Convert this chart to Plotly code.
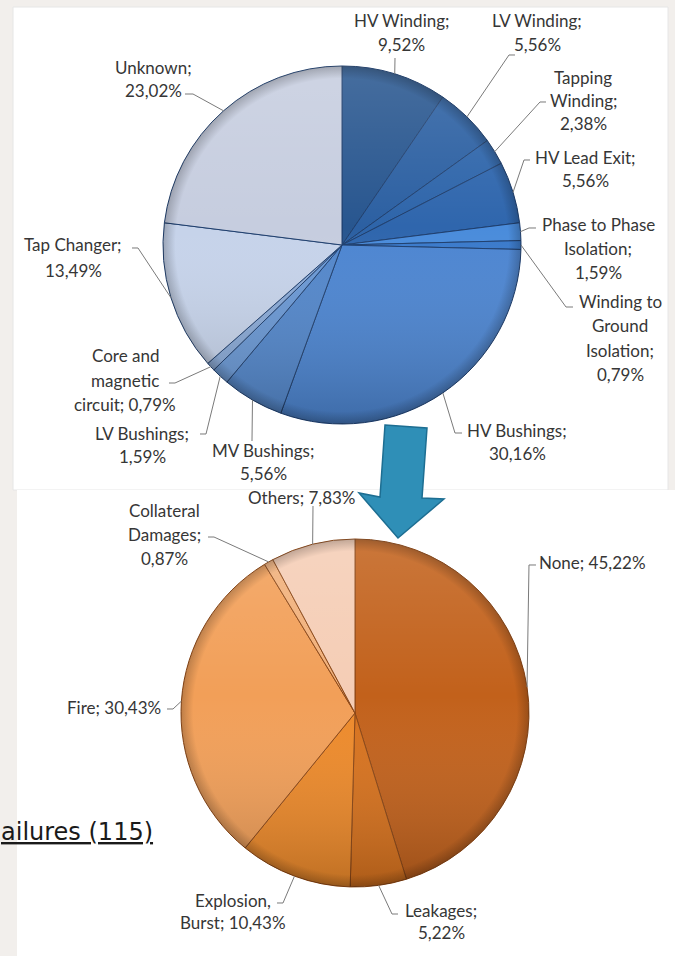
import math
import base64
import plotly.graph_objects as go

W, H = 675, 956

# ---- data: failure locations (top pie) ----
loc_labels = ["HV Winding", "LV Winding", "Tapping Winding", "HV Lead Exit",
              "Phase to Phase Isolation", "Winding to Ground Isolation",
              "HV Bushings", "MV Bushings", "LV Bushings",
              "Core and magnetic circuit", "Tap Changer", "Unknown"]
loc_values = [9.52, 5.56, 2.38, 5.56, 1.59, 0.79, 30.16, 5.56, 1.59, 0.79, 13.49, 23.02]
loc_text = [["HV Winding;", "9,52%"], ["LV Winding;", "5,56%"],
            ["Tapping", "Winding;", "2,38%"], ["HV Lead Exit;", "5,56%"],
            ["Phase to Phase", "Isolation;", "1,59%"],
            ["Winding to", "Ground", "Isolation;", "0,79%"],
            ["HV Bushings;", "30,16%"], ["MV Bushings;", "5,56%"],
            ["LV Bushings;", "1,59%"], ["Core and", "magnetic", "circuit; 0,79%"],
            ["Tap Changer;", "13,49%"], ["Unknown;", "23,02%"]]
loc_colors = ["#28568f", "#2c60a2", "#2e65aa", "#2f66ad", "#4a8cdb", "#3a7acb",
              "#4c85d1", "#5387cb", "#6a98d4", "#89a9d6", "#c6d3ea", "#c6cddf"]

# ---- data: consequences (bottom pie) ----
con_labels = ["None", "Leakages", "Explosion, Burst", "Fire", "Collateral Damages", "Others"]
con_values = [45.22, 5.22, 10.43, 30.43, 0.87, 7.83]
con_text = [["None; 45,22%"], ["Leakages;", "5,22%"], ["Explosion,", "Burst; 10,43%"],
            ["Fire; 30,43%"], ["Collateral", "Damages;", "0,87%"], ["Others; 7,83%"]]
con_colors = ["#c2611b", "#d8721d", "#ee8a2a", "#f29f58", "#f1b07a", "#f5cdb5"]

# ---- layout geometry (pixels) ----
PIE1 = dict(cx=342, cy=245, r=179)
PIE2 = dict(cx=355, cy=713, r=174)

# label placement: (centre x, first line y, line spacing, leader points near the text)
loc_place = [
    (402, 20, 25, [(395, 58)]),
    (537, 20, 25, [(515, 55), (509, 55)]),
    (583, 77, 23.5, [(546, 102), (540, 102)]),
    (585, 157, 23.5, [(530, 160), (524, 160)]),
    (598, 225, 23.5, [(536, 228), (529, 228)]),
    (620, 302, 24, [(573, 307), (566, 307)]),
    (517, 430, 23, [(462, 433), (455, 433)]),
    (263, 450, 23, [(252, 441)]),
    (142, 433, 23, [(200, 434), (206, 434)]),
    (125, 355, 25, [(169, 383), (175, 383)]),
    (73, 245, 25, [(132, 248), (138, 248)]),
    (153, 67, 23, [(185, 94), (193, 94)]),
]
con_place = [
    (592, 562, 23, [(536, 565), (529, 565)]),
    (441, 910, 22, [(398, 914), (392, 914)]),
    (233, 900, 22, [(277, 903), (283, 903)]),
    (114, 707, 23, [(167, 709), (173, 709)]),
    (164, 510, 24, [(208, 537), (214, 537)]),
    (302, 497, 23, [(313, 506)]),
]


def px(x):
    return x / W


def py(y):
    return 1 - y / H


def pie_domain(p):
    return dict(x=[px(p["cx"] - p["r"]), px(p["cx"] + p["r"])],
                y=[py(p["cy"] + p["r"]), py(p["cy"] - p["r"])])


def edge_points(values, p):
    """Point on the rim at the middle angle of each slice (clockwise from 12 o'clock)."""
    total = sum(values)
    pts, acc = [], 0.0
    for v in values:
        mid = (acc + v / 2) / total * 2 * math.pi
        pts.append((p["cx"] + p["r"] * math.sin(mid), p["cy"] - p["r"] * math.cos(mid)))
        acc += v
    return pts


fig = go.Figure()

fig.add_trace(go.Pie(
    labels=loc_labels, values=loc_values, sort=False, direction="clockwise",
    rotation=0, textinfo="none", hoverinfo="label+percent",
    marker=dict(colors=loc_colors, line=dict(color="#1f3f6e", width=1)),
    domain=pie_domain(PIE1), showlegend=False))

fig.add_trace(go.Pie(
    labels=con_labels, values=con_values, sort=False, direction="clockwise",
    rotation=0, textinfo="none", hoverinfo="label+percent",
    marker=dict(colors=con_colors, line=dict(color="#8a4514", width=1)),
    domain=pie_domain(PIE2), showlegend=False))

shapes = []
annotations = []

# background panels
shapes.append(dict(type="rect", xref="paper", yref="paper", layer="below",
                   x0=px(13), x1=px(668), y0=py(490), y1=py(7),
                   fillcolor="white", line=dict(color="#e6e6e6", width=1)))
shapes.append(dict(type="rect", xref="paper", yref="paper", layer="below",
                   x0=px(17), x1=px(676), y0=py(957), y1=py(490),
                   fillcolor="white", line=dict(width=0)))


def add_labels(texts, place, values, p):
    edges = edge_points(values, p)
    for lines, (cx, y0, dy, lead), e in zip(texts, place, edges):
        for i, t in enumerate(lines):
            annotations.append(dict(
                x=px(cx), y=py(y0 + i * dy), xref="paper", yref="paper",
                text=t, showarrow=False, xanchor="center", yanchor="middle",
                font=dict(family="Lato", size=17, color="#363636")))
        pts = lead + [e]
        path = "M " + " L ".join(f"{px(x):.5f},{py(y):.5f}" for x, y in pts)
        shapes.append(dict(type="path", xref="paper", yref="paper", path=path,
                           line=dict(color="#7a7a7a", width=1), layer="above"))


add_labels(loc_text, loc_place, loc_values, PIE1)
add_labels(con_text, con_place, con_values, PIE2)

# arrow linking the two charts
arrow = [(385, 425), (427, 428), (422, 498), (444, 499), (398, 538),
         (359, 493), (380, 497)]
shapes.append(dict(type="path", xref="paper", yref="paper", layer="above",
                   path="M " + " L ".join(f"{px(x):.5f},{py(y):.5f}" for x, y in arrow) + " Z",
                   fillcolor="#2f8fb7", line=dict(color="#1d6e92", width=1.5)))

# partially visible slide caption
annotations.append(dict(x=px(-1), y=py(832), xref="paper", yref="paper",
                        text="<u>ailures (115)</u>", showarrow=False,
                        xanchor="left", yanchor="middle",
                        font=dict(family="DejaVu Sans", size=24, color="#1a1a1a")))

# soft top-light / bottom-shade over each pie
svg = ('<svg xmlns="http://www.w3.org/2000/svg" width="200" height="200" viewBox="0 0 200 200">'
       '<defs><linearGradient id="g" x1="0" y1="0" x2="0" y2="1">'
       '<stop offset="0" stop-color="#ffffff" stop-opacity="0.14"/>'
       '<stop offset="0.45" stop-color="#ffffff" stop-opacity="0"/>'
       '<stop offset="1" stop-color="#000000" stop-opacity="0.2"/></linearGradient>'
       '<radialGradient id="r" cx="0.5" cy="0.5" r="0.5">'
       '<stop offset="0.93" stop-color="#000000" stop-opacity="0"/>'
       '<stop offset="1" stop-color="#000000" stop-opacity="0.22"/></radialGradient></defs>'
       '<circle cx="100" cy="100" r="100" fill="url(#g)"/>'
       '<circle cx="100" cy="100" r="100" fill="url(#r)"/></svg>')
src = "data:image/svg+xml;base64," + base64.b64encode(svg.encode()).decode()
images = []
for p in (PIE1, PIE2):
    images.append(dict(source=src, xref="paper", yref="paper",
                       x=px(p["cx"] - p["r"]), y=py(p["cy"] - p["r"]),
                       sizex=2 * p["r"] / W, sizey=2 * p["r"] / H,
                       xanchor="left", yanchor="top", sizing="stretch", layer="above"))

fig.update_layout(
    width=W, height=H, margin=dict(l=0, r=0, t=0, b=0),
    paper_bgcolor="#f2efec", plot_bgcolor="#f2efec",
    shapes=shapes, annotations=annotations, images=images,
)

fig.write_html("out.html")
